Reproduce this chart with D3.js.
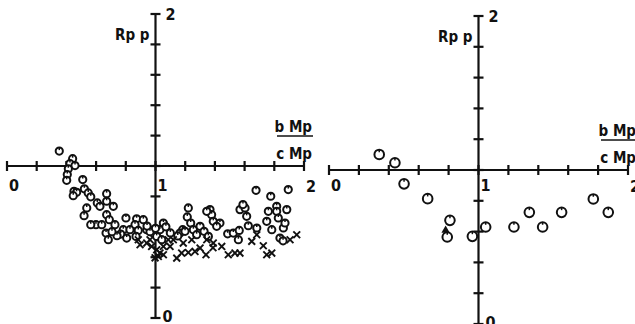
<!DOCTYPE html>
<html>
<head>
<meta charset="utf-8">
<script src="https://cdn.jsdelivr.net/npm/d3@7"></script>
<style>
  body { margin: 0; background: #fff; }
  svg text { font-family: "Liberation Sans Narrow", "DejaVu Sans Condensed", sans-serif; fill: #111; font-weight: bold; }
</style>
</head>
<body>
<div id="container"></div>
<script>
// tick values along both axes (bMp/cMp and Rpp)
const tickValues = [0, 0.2, 0.4, 0.6, 0.8, 1, 1.2, 1.4, 1.6, 1.8, 2];
const tickLabels = ["0", "1", "2"];

// left panel: circles (bMp/cMp, Rpp)
const leftCircles = [
  [0.352, 1.098], [0.442, 1.048], [0.424, 1.016], [0.458, 1.003], [0.413, 0.982],
  [0.406, 0.944], [0.402, 0.906], [0.510, 0.911], [0.451, 0.834], [0.469, 0.827],
  [0.446, 0.805], [0.521, 0.850], [0.547, 0.823], [0.564, 0.797], [0.608, 0.757],
  [0.671, 0.818], [0.671, 0.768], [0.626, 0.735], [0.537, 0.724], [0.519, 0.673],
  [0.716, 0.735], [0.671, 0.680], [0.599, 0.614], [0.638, 0.614], [0.564, 0.614],
  [0.689, 0.647], [0.727, 0.614], [0.667, 0.559], [0.682, 0.515], [0.801, 0.658],
  [0.783, 0.581], [0.766, 0.552], [0.806, 0.526], [0.873, 0.653], [0.918, 0.647],
  [0.862, 0.614], [0.884, 0.576], [0.941, 0.581], [0.869, 0.537], [0.990, 0.554],
  [1.030, 0.581], [1.053, 0.625], [1.008, 0.537], [1.042, 0.515], [0.963, 0.568],
  [0.828, 0.581], [0.741, 0.541], [0.707, 0.568], [0.943, 0.605], [1.000, 0.590],
  [1.221, 0.724], [1.214, 0.665], [1.237, 0.625], [1.183, 0.581], [1.165, 0.559],
  [1.199, 0.570], [1.255, 0.581], [1.300, 0.603], [1.277, 0.548], [1.367, 0.713],
  [1.378, 0.680], [1.345, 0.702], [1.389, 0.636], [1.434, 0.625], [1.327, 0.570],
  [1.356, 0.537], [1.412, 0.603], [1.486, 0.554], [1.524, 0.559], [1.564, 0.576],
  [1.558, 0.515], [1.569, 0.713], [1.603, 0.724], [1.614, 0.669], [1.625, 0.607],
  [1.682, 0.592], [1.677, 0.840], [1.776, 0.801], [1.894, 0.845], [1.760, 0.702],
  [1.816, 0.735], [1.816, 0.702], [1.827, 0.658], [1.884, 0.713], [1.749, 0.636],
  [1.783, 0.581], [1.861, 0.592], [1.872, 0.625], [1.838, 0.526], [1.589, 0.746],
  [1.859, 0.508], [1.150, 0.540], [1.100, 0.560], [1.070, 0.600]
];

// left panel: crosses
const leftCrosses = [
  [1.951, 0.548], [1.906, 0.515], [1.682, 0.548], [1.648, 0.504], [1.726, 0.475],
  [1.749, 0.416], [1.783, 0.427], [1.490, 0.416], [1.535, 0.427], [1.569, 0.427],
  [1.446, 0.471], [1.389, 0.493], [1.340, 0.416], [1.300, 0.460], [1.266, 0.438],
  [1.221, 0.431], [1.176, 0.427], [1.143, 0.394], [1.187, 0.493], [1.244, 0.515],
  [1.120, 0.515], [1.098, 0.471], [1.053, 0.416], [1.019, 0.405], [1.008, 0.449],
  [0.974, 0.471], [0.941, 0.493], [0.896, 0.482], [0.884, 0.515], [0.963, 0.515],
  [1.053, 0.471], [1.086, 0.515], [1.030, 0.427], [1.345, 0.515], [1.387, 0.462],
  [0.997, 0.396]
];

// right panel
const rightCircles = [
  [0.336, 1.101], [0.441, 1.047], [0.502, 0.910], [0.660, 0.814], [0.809, 0.673],
  [0.791, 0.565], [0.959, 0.569], [1.048, 0.630], [1.237, 0.630], [1.340, 0.725],
  [1.429, 0.630], [1.556, 0.725], [1.768, 0.812], [1.868, 0.725]
];
const rightTriangles = [[0.780, 0.608]];

const W = 635, H = 324;
const svg = d3.select("#container").append("svg")
  .attr("width", W).attr("height", H);

const panels = [
  { x0: 7, x2: 304, y0: 318, y2: 14, circles: leftCircles, crosses: leftCrosses, triangles: [], r: 3.6, lab: 25 },
  { x0: 329, x2: 628, y0: 324, y2: 16, circles: rightCircles, crosses: [], triangles: rightTriangles, r: 4.8, lab: 21 }
];

panels.forEach(p => {
  const x = d3.scaleLinear().domain([0, 2]).range([p.x0, p.x2]);
  const y = d3.scaleLinear().domain([0, 2]).range([p.y0, p.y2]);
  const g = svg.append("g");
  const ax = x(1), ay = y(1);

  // axes lines
  g.append("line").attr("x1", x(0)).attr("x2", x(2)).attr("y1", ay).attr("y2", ay)
    .attr("stroke", "#111").attr("stroke-width", 2.2);
  g.append("line").attr("x1", ax).attr("x2", ax).attr("y1", y(0)).attr("y2", y(2))
    .attr("stroke", "#111").attr("stroke-width", 2.2);

  // ticks crossing the axes
  g.selectAll(".xt").data(tickValues).enter().append("line")
    .attr("x1", d => x(d)).attr("x2", d => x(d))
    .attr("y1", ay - 5).attr("y2", ay + 5)
    .attr("stroke", "#111").attr("stroke-width", 2.2);
  g.selectAll(".yt").data(tickValues).enter().append("line")
    .attr("x1", ax - 5).attr("x2", ax + 5)
    .attr("y1", d => y(d)).attr("y2", d => y(d))
    .attr("stroke", "#111").attr("stroke-width", 2.2);

  // tick labels
  g.append("text").attr("x", x(0) + 2).attr("y", ay + p.lab).attr("font-size", 16).text(tickLabels[0]);
  g.append("text").attr("x", ax + 2).attr("y", ay + p.lab).attr("font-size", 16).text(tickLabels[1]);
  g.append("text").attr("x", x(2) + 2).attr("y", ay + p.lab + 1).attr("font-size", 16).text(tickLabels[2]);
  g.append("text").attr("x", ax + 10).attr("y", y(2) + 6).attr("font-size", 16).text(tickLabels[2]);
  g.append("text").attr("x", ax + 7).attr("y", y(0) + 4).attr("font-size", 16).text(tickLabels[0]);

  // axis titles
  g.append("text").attr("x", ax - 6).attr("y", y(2) + 26).attr("text-anchor", "end")
    .attr("font-size", 15).text("Rp p");
  g.append("text").attr("x", x(2) + 8).attr("y", ay - 34).attr("text-anchor", "end")
    .attr("font-size", 15).text("b Mp");
  g.append("line").attr("x1", x(2) - 27).attr("x2", x(2) + 9)
    .attr("y1", ay - 30).attr("y2", ay - 30).attr("stroke", "#111").attr("stroke-width", 1.6);
  g.append("text").attr("x", x(2) + 8).attr("y", ay - 7).attr("text-anchor", "end")
    .attr("font-size", 15).text("c Mp");

  // circle markers with a small notch at top
  const cg = g.selectAll(".c").data(p.circles).enter().append("g")
    .attr("transform", d => `translate(${x(d[0])},${y(d[1])})`);
  cg.append("circle").attr("r", p.r).attr("fill", "#fff")
    .attr("stroke", "#111").attr("stroke-width", 2);
  cg.append("line").attr("x1", 0).attr("x2", 0).attr("y1", -p.r).attr("y2", -p.r + 2.6)
    .attr("stroke", "#111").attr("stroke-width", 1.5);

  // crosses
  const s = 3.4;
  const xg = g.selectAll(".x").data(p.crosses).enter().append("g")
    .attr("transform", d => `translate(${x(d[0])},${y(d[1])})`)
    .attr("stroke", "#111").attr("stroke-width", 1.9);
  xg.append("line").attr("x1", -s).attr("y1", -s).attr("x2", s).attr("y2", s);
  xg.append("line").attr("x1", -s).attr("y1", s).attr("x2", s).attr("y2", -s);

  // triangles
  g.selectAll(".t").data(p.triangles).enter().append("path")
    .attr("d", d3.symbol().type(d3.symbolTriangle).size(30))
    .attr("transform", d => `translate(${x(d[0])},${y(d[1])})`)
    .attr("fill", "#111");
});
</script>
</body>
</html>
